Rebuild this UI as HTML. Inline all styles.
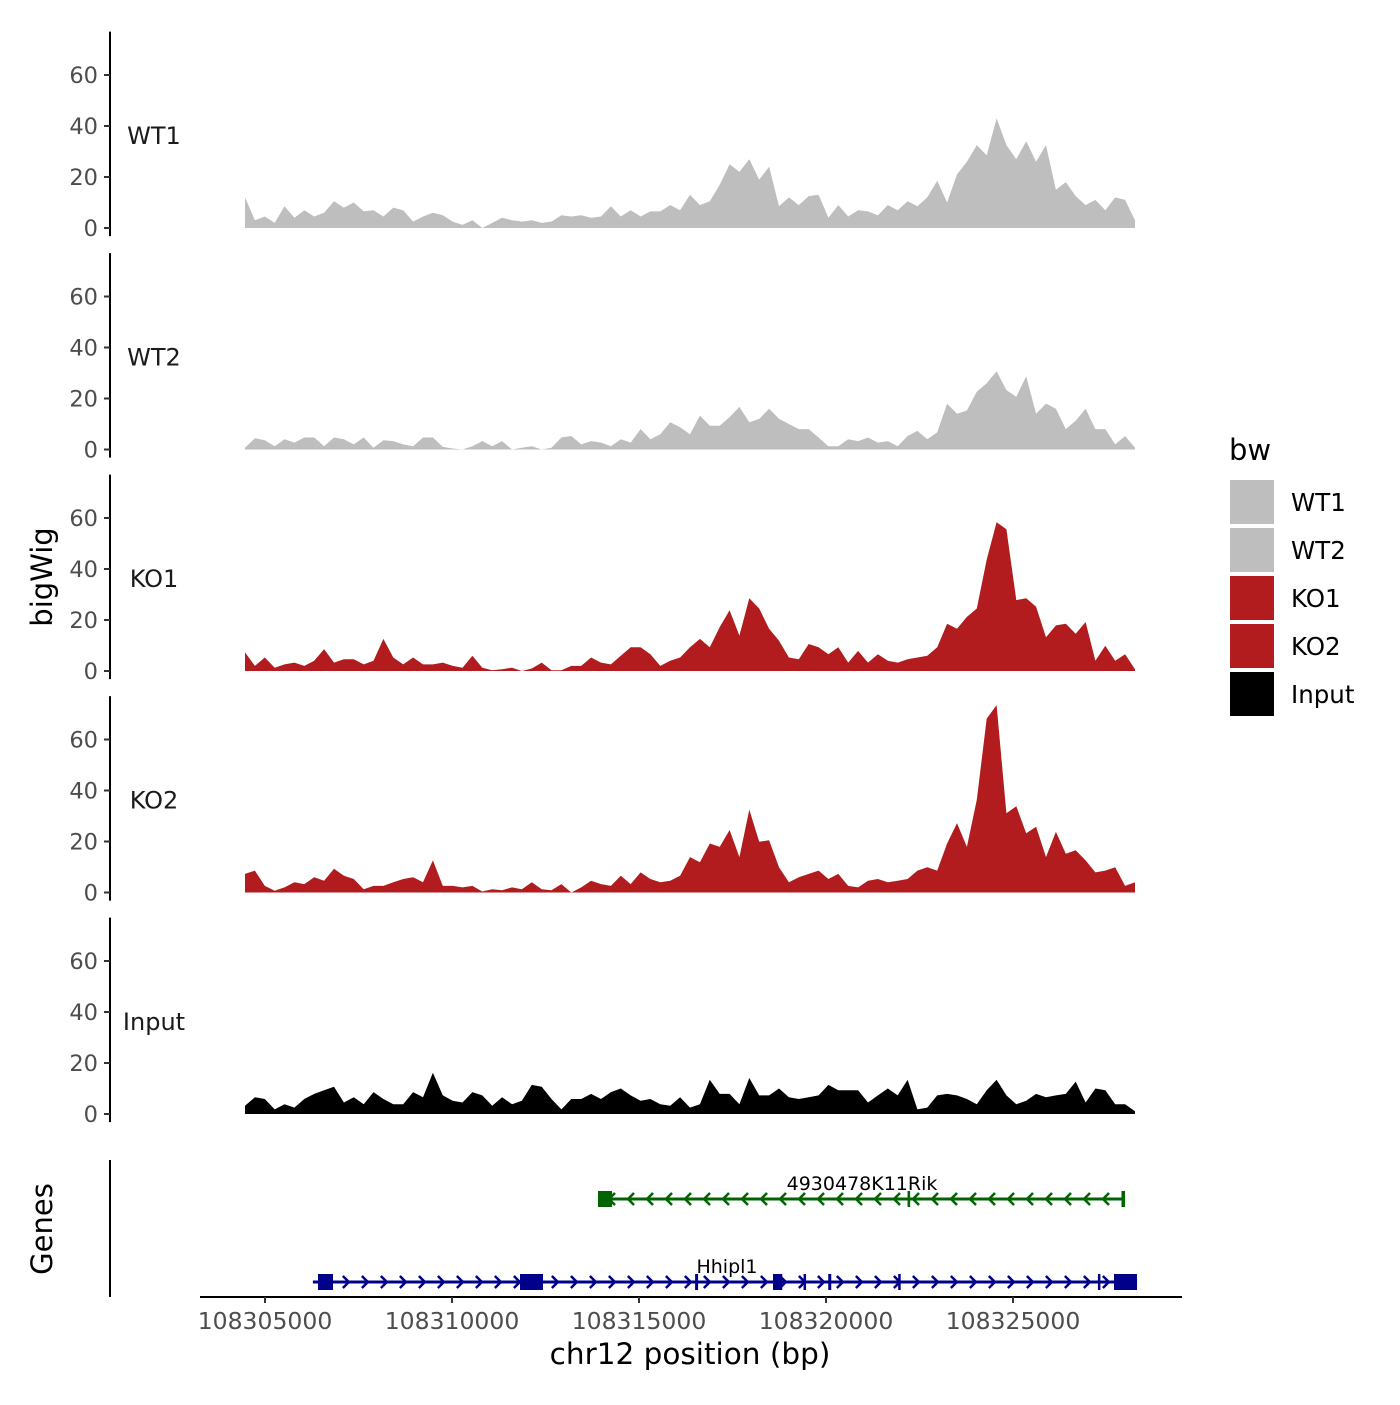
<!DOCTYPE html>
<html><head><meta charset="utf-8"><style>
body{margin:0;background:#fff}
svg text{font-family:"DejaVu Sans","Liberation Sans",sans-serif}
</style></head><body>
<svg id="c" width="1400" height="1400" viewBox="0 0 1400 1400"></svg>
<script>
const trackNames=["WT1","WT2","KO1","KO2","Input"];
const trackColors=["#bebebe","#bebebe","#b21c1e","#b21c1e","#000000"];
const startBp=108304465, endBp=108328262;
const wt1=[12,3,4.5,2,8.5,4,7,4.5,6,10.5,8,10,6.5,7,4.5,8,7,2.5,4.5,6,5,2.5,1.2,3,0,2,4,3,2.5,3,2,2.5,5,4.5,5,4,4.5,8.5,4.5,7,4.5,6.5,6.5,9,7,13,9,10.5,17,25,22,27,19,24,8.5,12,9,12.5,13,4,9,4.5,7,6.5,5,9,7,10.5,8.5,12,18.5,10,21,26,32.5,28.5,43,32.5,27,34,26,32.5,15,18,12.5,9,11,7,12,11,3];
const wt2=[0.7,4.4,3.6,1.3,4,2.7,4.7,4.7,1.3,4.7,4,2,4.7,0.7,3.6,3.3,2,1.3,4.7,4.7,1,0.4,0,1.3,3.3,1.3,3.3,0,0.7,1.3,0,0.7,4.7,5.3,2,3.3,2.7,1.3,4,2.7,8,4,6,10.7,8.7,6,13.3,9.3,9.3,12.7,16.7,10.7,12,16,12,10,8,8,4.7,1.3,1.3,4,3.3,4.7,2.7,3.3,1.3,5.3,7.3,4,6.7,18,14,15.3,22.7,26,30.7,23.3,20.7,28.7,14,18,16,8,11.3,16,8,8,2,5.3,0.7];
const ko1=[7.3,2,5.3,1.3,2.6,3.3,2,4,8.6,3.3,4.6,4.6,2.6,4,12.6,5.3,2.6,5.3,2.6,2.6,3.3,2,1.3,6,1.3,0.3,0.7,1.3,0,1,3.3,0.3,0.3,2,2,5.3,3.3,2.6,6,9.3,9.3,6.6,2,4,5.3,9.3,12.6,9.3,17.2,23.8,13.9,28.5,24.5,16.6,11.9,5.3,4.6,10.6,9.3,6.6,9.3,3.3,7.9,3.3,6.6,4,3.3,4.6,5.3,6,9.3,18.5,16.6,21.2,24.5,43.7,58.3,55.6,27.8,28.5,25.2,13.2,17.9,18.5,14.6,19.2,4,9.9,4,6.6,0.7];
const ko2=[7.3,8.6,2.6,0.7,2,4,3.3,6,4.6,9.3,6.6,5.3,1.3,2.6,2.6,4,5.3,6,4,12.6,2.6,2.6,2,2.6,0.4,1.3,0.9,2,1.3,4,1.3,0.9,3.3,0,2,4.6,3.3,2.6,6.6,3.3,7.9,5.3,4,4.6,6.6,13.9,11.9,19.2,17.9,24.5,13.9,32.5,19.9,20.5,9.9,4,6,7.3,8.6,5.3,7.3,2.6,2,4.6,5.3,4,4.6,5.3,8.6,9.9,8.6,19.2,27.2,17.9,36.4,68.2,73.5,31.1,33.8,23.2,25.8,13.9,23.8,15.2,16.6,12.6,7.9,8.6,9.9,2.6,4];
const input=[3.2,6.6,5.9,1.8,3.8,2.5,5.9,7.9,9.3,10.7,4.5,6.6,3.8,8.6,5.9,3.8,3.8,8.6,6.6,16.2,7.3,5.2,4.5,8.6,7.3,3.2,6.6,3.8,5.2,11.4,10.7,5.9,1.8,5.9,5.9,7.9,5.9,8.6,10,7.3,5.2,5.9,3.8,3.2,6.6,2.5,3.8,13.4,7.9,7.9,3.8,14.1,7.3,7.3,10,6.6,5.9,6.6,7.3,11.4,9.3,9.3,9.3,4.5,7.3,10,7.3,13.4,1.8,2.5,7.3,7.9,7.3,5.9,3.8,9.3,13.4,7.3,3.8,5.2,7.9,6.6,7.3,7.9,12.7,4.5,10,9.3,3.8,3.8,1.1];
const tracks=[wt1,wt2,ko1,ko2,input];
const yTicks=[0,20,40,60];
const xTicks=[108305000,108310000,108315000,108320000,108325000];
const greenGene=[108313904,108327995];
const greenExons=[[108313904,108314280],[108322180,108322250],[108327900,108327995]];
const blueGene=[108306280,108328316];
const blueExons=[[108306417,108306818],[108311818,108312433],[108316500,108316580],[108318583,108318830],[108319400,108319460],[108320060,108320140],[108321930,108321990],[108327270,108327330],[108327701,108328316]];
const legendLabels=["WT1","WT2","KO1","KO2","Input"];

const svg=document.getElementById('c');
const NS='http://www.w3.org/2000/svg';
function mk(tag,attrs,parent){const e=document.createElementNS(NS,tag);for(const k in attrs)e.setAttribute(k,attrs[k]);(parent||svg).appendChild(e);return e;}
const xS=bp=>265+(bp-108305000)*187/5000;
const zero0=228, dy=221.5, ppu=51/20;
const yS=(t,v)=>zero0+t*dy-v*ppu;

tracks.forEach((vals,t)=>{
  const g=mk('g',{});
  
  
  const n=vals.length;
  let d='M'+xS(startBp)+','+yS(t,0);
  vals.forEach((v,i)=>{const bp=startBp+(endBp-startBp)*i/(n-1);d+=' L'+xS(bp).toFixed(1)+','+yS(t,v).toFixed(1);});
  d+=' L'+xS(endBp)+','+yS(t,0)+' Z';
  const p=mk('path',{d:d,fill:trackColors[t]},g);
  
  
  const ax=mk('line',{x1:110,x2:110,y1:yS(t,77),y2:yS(t,-3.2),stroke:'#000','stroke-width':2},g);
  
  
  yTicks.forEach(v=>{
    mk('line',{x1:104,x2:110,y1:yS(t,v),y2:yS(t,v),stroke:'#333','stroke-width':2},g);
    const tx=mk('text',{x:98,y:yS(t,v)+8,'text-anchor':'end','font-size':22.5,fill:'#4d4d4d'},g);
    tx.textContent=v;
    
    
  });
  const lb=mk('text',{x:154,y:yS(t,36)+8,'text-anchor':'middle','font-size':24,fill:'#1a1a1a'},g);
  lb.textContent=trackNames[t];
  
  
});

const yt=mk('text',{x:0,y:0,transform:'translate(52,577) rotate(-90)','text-anchor':'middle','font-size':29,fill:'#000'});
yt.textContent='bigWig';


const gt=mk('text',{x:0,y:0,transform:'translate(52,1229) rotate(-90)','text-anchor':'middle','font-size':29,fill:'#000'});
gt.textContent='Genes';



const ga=mk('line',{x1:110,x2:110,y1:1160,y2:1297,stroke:'#000','stroke-width':2});


function drawGene(gene,exons,y,color,dir,label,name,lx){
  const g=mk('g',{});
  
  
  const x1=xS(gene[0]),x2=xS(gene[1]);
  mk('line',{x1:x1,x2:x2,y1:y,y2:y,stroke:color,'stroke-width':3},g);
  for(let x=x1+14;x<x2-6;x+=19){
    const a=dir>0?`M${x-3},${y-6} L${x+3},${y} L${x-3},${y+6}`:`M${x+3},${y-6} L${x-3},${y} L${x+3},${y+6}`;
    mk('path',{d:a,stroke:color,'stroke-width':2.5,fill:'none'},g);
  }
  exons.forEach(e=>{const a=xS(e[0]),b=xS(e[1]);const w=Math.max(b-a,2.5);
    mk('rect',{x:a,y:y-8,width:w,height:16,fill:color},g);});
  const t=mk('text',{x:lx,y:y-9,'text-anchor':'middle','font-size':19,fill:'#000'},g);
  t.textContent=label;
}
drawGene(greenGene,greenExons,1199,'#006400',-1,'4930478K11Rik','gene-4930478k11rik',862);
drawGene(blueGene,blueExons,1282,'#00008b',1,'Hhipl1','gene-hhipl1',727);

const xa=mk('line',{x1:200,x2:1182,y1:1297,y2:1297,stroke:'#000','stroke-width':2});


xTicks.forEach(v=>{
  mk('line',{x1:xS(v),x2:xS(v),y1:1297,y2:1303,stroke:'#333','stroke-width':2});
  const t=mk('text',{x:xS(v),y:1329,'text-anchor':'middle','font-size':23.5,fill:'#4d4d4d'});
  t.textContent=v;
  
  
});
const xt=mk('text',{x:690,y:1364,'text-anchor':'middle','font-size':29.5,fill:'#000'});
xt.textContent='chr12 position (bp)';



const lg=mk('g',{});


const ltt=mk('text',{x:1229,y:460,'font-size':29,fill:'#000'},lg);
ltt.textContent='bw';
legendLabels.forEach((l,i)=>{
  const r=mk('rect',{x:1230,y:480+i*48,width:44,height:44,fill:trackColors[i]},lg);
  
  
  const t=mk('text',{x:1291,y:511+i*48,'font-size':24.5,fill:'#000'},lg);
  t.textContent=l;
  
  
});
</script>
</body></html>
